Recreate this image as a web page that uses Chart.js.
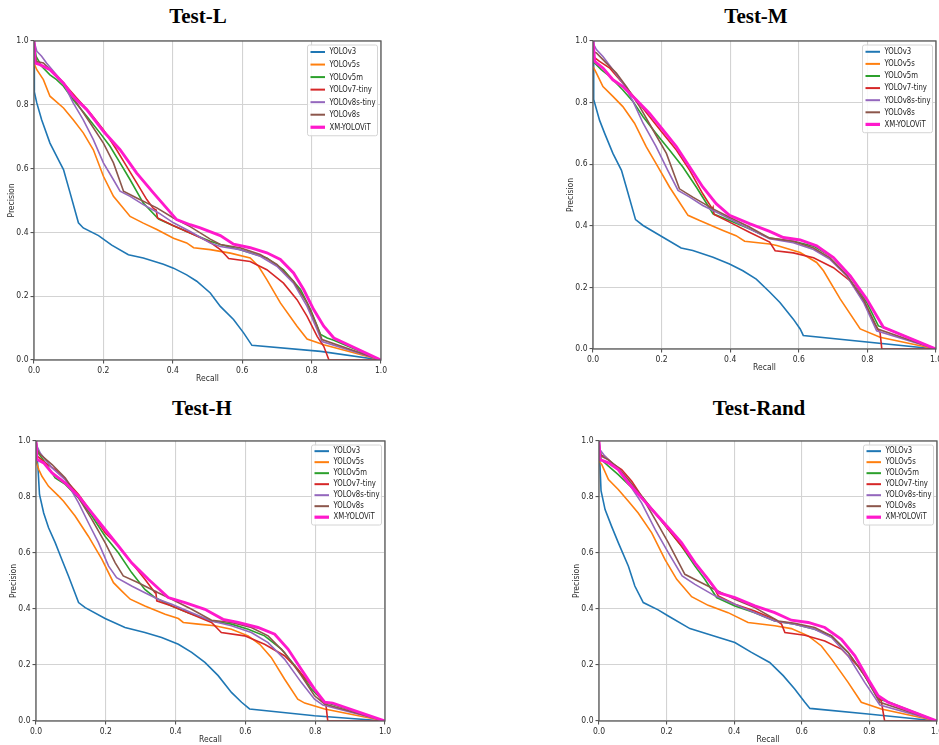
<!DOCTYPE html>
<html>
<head>
<meta charset="utf-8">
<script src="https://cdn.jsdelivr.net/npm/chart.js@4.4.1/dist/chart.umd.min.js"></script>
<style>
  html, body { margin: 0; padding: 0; background: #fff; }
  body { width: 939px; height: 745px; position: relative; overflow: hidden; }
  canvas { position: absolute; }
  .title {
    position: absolute;
    font-family: "Liberation Serif", "Times New Roman", serif;
    font-weight: bold;
    font-size: 21px;
    line-height: 21px;
    transform: translateX(-50%);
    white-space: nowrap;
    color: #000;
  }
</style>
</head>
<body>
<div class="title" style="left:198px;top:6px">Test-L</div>
<div class="title" style="left:756px;top:6px">Test-M</div>
<div class="title" style="left:202px;top:398px">Test-H</div>
<div class="title" style="left:759px;top:398px">Test-Rand</div>

<canvas id="chartL" width="401" height="359" style="left:0px;top:29px"></canvas>
<canvas id="chartM" width="397" height="348" style="left:559px;top:29px"></canvas>
<canvas id="chartH" width="403" height="320" style="left:2px;top:429px"></canvas>
<canvas id="chartR" width="392" height="320" style="left:565px;top:429px"></canvas>

<script>
// series names and axis ticks
const seriesNames = ["YOLOv3", "YOLOv5s", "YOLOv5m", "YOLOv7-tiny", "YOLOv8s-tiny", "YOLOv8s", "XM-YOLOViT"];
const axisTicks = [0.0, 0.2, 0.4, 0.6, 0.8, 1.0];

// [recall, precision] pairs

// Test-L
const lV3  = [[0,1.0],[0.001,0.84],[0.008,0.806],[0.022,0.753],[0.046,0.68],[0.075,0.618],[0.085,0.597],[0.104,0.524],[0.128,0.43],[0.142,0.414],[0.186,0.39],[0.224,0.36],[0.272,0.33],[0.315,0.32],[0.373,0.30],[0.402,0.288],[0.44,0.267],[0.469,0.247],[0.508,0.21],[0.537,0.168],[0.575,0.127],[0.604,0.085],[0.628,0.046],[0.826,0.027],[1.0,0.0]];
const lV5s = [[0,0.93],[0.008,0.91],[0.027,0.879],[0.046,0.827],[0.085,0.79],[0.113,0.753],[0.142,0.712],[0.171,0.659],[0.2,0.576],[0.229,0.513],[0.277,0.45],[0.315,0.429],[0.354,0.409],[0.402,0.382],[0.44,0.367],[0.46,0.352],[0.508,0.346],[0.566,0.335],[0.623,0.32],[0.647,0.294],[0.671,0.252],[0.71,0.179],[0.758,0.106],[0.787,0.066],[0.835,0.048],[1.0,0.0]];
const lV5m = [[0,1.0],[0.006,0.952],[0.022,0.921],[0.046,0.894],[0.065,0.879],[0.085,0.858],[0.113,0.816],[0.152,0.764],[0.19,0.712],[0.219,0.67],[0.248,0.618],[0.277,0.565],[0.315,0.492],[0.359,0.442],[0.402,0.421],[0.45,0.398],[0.508,0.372],[0.537,0.362],[0.594,0.346],[0.671,0.32],[0.719,0.283],[0.768,0.221],[0.797,0.158],[0.826,0.08],[0.845,0.069],[0.864,0.062],[1.0,0.0]];
const lV7t = [[0,0.94],[0.017,0.926],[0.046,0.91],[0.085,0.868],[0.123,0.821],[0.162,0.774],[0.2,0.722],[0.238,0.659],[0.267,0.607],[0.296,0.555],[0.325,0.503],[0.344,0.475],[0.352,0.47],[0.356,0.445],[0.402,0.421],[0.45,0.398],[0.508,0.369],[0.537,0.346],[0.551,0.33],[0.561,0.318],[0.623,0.309],[0.671,0.283],[0.719,0.241],[0.758,0.189],[0.787,0.137],[0.816,0.074],[0.835,0.043],[0.85,0.0],[1.0,0.0]];
const lV8t = [[0,1.0],[0.008,0.968],[0.022,0.952],[0.036,0.931],[0.056,0.905],[0.085,0.868],[0.113,0.806],[0.142,0.753],[0.171,0.691],[0.2,0.618],[0.229,0.565],[0.248,0.529],[0.277,0.513],[0.315,0.487],[0.359,0.461],[0.402,0.43],[0.45,0.403],[0.508,0.367],[0.537,0.356],[0.594,0.346],[0.652,0.325],[0.7,0.294],[0.748,0.241],[0.787,0.168],[0.816,0.095],[0.83,0.058],[1.0,0.0]];
const lV8s = [[0,0.973],[0.008,0.936],[0.027,0.931],[0.056,0.90],[0.085,0.868],[0.123,0.806],[0.162,0.743],[0.2,0.68],[0.229,0.618],[0.258,0.529],[0.296,0.508],[0.354,0.477],[0.402,0.445],[0.45,0.418],[0.508,0.379],[0.537,0.362],[0.594,0.352],[0.652,0.331],[0.7,0.30],[0.748,0.247],[0.787,0.179],[0.816,0.106],[0.83,0.064],[1.0,0.0]];
const lXm  = [[0,1.0],[0.003,0.931],[0.017,0.926],[0.046,0.91],[0.085,0.868],[0.113,0.826],[0.152,0.785],[0.2,0.717],[0.248,0.659],[0.296,0.586],[0.344,0.524],[0.411,0.44],[0.45,0.424],[0.479,0.414],[0.537,0.39],[0.575,0.363],[0.623,0.352],[0.671,0.336],[0.71,0.315],[0.748,0.273],[0.777,0.221],[0.806,0.158],[0.835,0.106],[0.864,0.069],[1.0,0.0]];

// Test-M
const mV3  = [[0,1.0],[0.002,0.81],[0.019,0.743],[0.034,0.70],[0.058,0.635],[0.083,0.58],[0.097,0.526],[0.124,0.42],[0.146,0.401],[0.204,0.363],[0.257,0.328],[0.291,0.32],[0.35,0.298],[0.398,0.276],[0.437,0.254],[0.476,0.227],[0.515,0.185],[0.545,0.151],[0.584,0.097],[0.604,0.065],[0.613,0.044],[1.0,0.0]];
const mV5s = [[0,0.917],[0.01,0.896],[0.029,0.852],[0.058,0.82],[0.087,0.787],[0.121,0.733],[0.155,0.657],[0.184,0.602],[0.223,0.526],[0.277,0.434],[0.311,0.417],[0.379,0.385],[0.417,0.368],[0.442,0.35],[0.515,0.341],[0.536,0.336],[0.604,0.313],[0.652,0.281],[0.672,0.254],[0.721,0.162],[0.779,0.065],[0.837,0.038],[1.0,0.0]];
const mV5m = [[0,0.993],[0.005,0.928],[0.024,0.907],[0.049,0.885],[0.087,0.841],[0.117,0.803],[0.146,0.754],[0.184,0.70],[0.223,0.646],[0.262,0.591],[0.301,0.526],[0.35,0.439],[0.398,0.417],[0.456,0.39],[0.515,0.36],[0.584,0.35],[0.643,0.334],[0.701,0.296],[0.75,0.237],[0.798,0.151],[0.832,0.075],[0.857,0.066],[1.0,0.0]];
const mV7t = [[0,0.95],[0.019,0.934],[0.049,0.912],[0.087,0.863],[0.126,0.809],[0.165,0.754],[0.204,0.70],[0.243,0.646],[0.282,0.58],[0.32,0.504],[0.348,0.455],[0.35,0.46],[0.353,0.437],[0.398,0.412],[0.456,0.379],[0.515,0.347],[0.531,0.319],[0.584,0.312],[0.643,0.296],[0.701,0.264],[0.75,0.221],[0.789,0.156],[0.822,0.08],[0.837,0.053],[0.842,0.0],[1.0,0.0]];
const mV8t = [[0,0.993],[0.01,0.972],[0.029,0.95],[0.058,0.907],[0.087,0.863],[0.117,0.803],[0.146,0.733],[0.184,0.657],[0.218,0.58],[0.248,0.515],[0.282,0.493],[0.32,0.466],[0.359,0.445],[0.398,0.423],[0.456,0.39],[0.515,0.358],[0.584,0.345],[0.643,0.323],[0.691,0.291],[0.74,0.237],[0.789,0.151],[0.827,0.059],[1.0,0.0]];
const mV8s = [[0,0.966],[0.01,0.961],[0.039,0.928],[0.068,0.896],[0.097,0.852],[0.136,0.787],[0.175,0.711],[0.214,0.635],[0.252,0.52],[0.291,0.493],[0.35,0.455],[0.398,0.428],[0.456,0.396],[0.515,0.36],[0.584,0.35],[0.643,0.328],[0.691,0.296],[0.74,0.24],[0.789,0.16],[0.83,0.065],[1.0,0.0]];
const mXm  = [[0,1.0],[0.005,0.934],[0.029,0.912],[0.058,0.874],[0.087,0.852],[0.126,0.809],[0.165,0.765],[0.204,0.711],[0.243,0.657],[0.282,0.591],[0.32,0.526],[0.359,0.472],[0.398,0.434],[0.456,0.407],[0.515,0.382],[0.555,0.362],[0.604,0.354],[0.652,0.335],[0.701,0.297],[0.75,0.237],[0.798,0.162],[0.847,0.07],[1.0,0.0]];

// Test-H
const hV3  = [[0,1.0],[0.006,0.898],[0.01,0.809],[0.022,0.743],[0.036,0.69],[0.055,0.637],[0.074,0.577],[0.093,0.518],[0.122,0.423],[0.141,0.405],[0.198,0.366],[0.255,0.334],[0.312,0.316],[0.36,0.298],[0.408,0.274],[0.446,0.245],[0.484,0.209],[0.522,0.162],[0.56,0.102],[0.589,0.067],[0.612,0.043],[0.798,0.019],[1.0,0.0]];
const hV5s = [[0,0.928],[0.008,0.898],[0.017,0.874],[0.036,0.838],[0.065,0.803],[0.079,0.785],[0.112,0.732],[0.15,0.66],[0.189,0.577],[0.222,0.494],[0.246,0.464],[0.27,0.435],[0.312,0.411],[0.37,0.381],[0.408,0.366],[0.422,0.352],[0.465,0.346],[0.512,0.34],[0.56,0.328],[0.608,0.304],[0.641,0.274],[0.674,0.227],[0.712,0.15],[0.75,0.078],[0.77,0.064],[0.827,0.043],[1.0,0.0]];
const hV5m = [[0,1.0],[0.006,0.957],[0.027,0.922],[0.055,0.868],[0.084,0.845],[0.122,0.797],[0.16,0.732],[0.198,0.66],[0.236,0.601],[0.274,0.53],[0.312,0.47],[0.341,0.441],[0.389,0.411],[0.436,0.387],[0.503,0.357],[0.56,0.346],[0.608,0.328],[0.655,0.304],[0.703,0.257],[0.75,0.185],[0.789,0.114],[0.827,0.067],[0.855,0.057],[1.0,0.0]];
const hV7t = [[0,0.95],[0.01,0.94],[0.027,0.922],[0.055,0.898],[0.084,0.862],[0.122,0.809],[0.16,0.743],[0.198,0.672],[0.236,0.625],[0.274,0.565],[0.312,0.506],[0.341,0.458],[0.343,0.465],[0.346,0.429],[0.389,0.411],[0.446,0.381],[0.503,0.352],[0.517,0.334],[0.531,0.316],[0.598,0.304],[0.655,0.274],[0.712,0.233],[0.75,0.185],[0.789,0.126],[0.817,0.078],[0.831,0.055],[0.836,0.0],[1.0,0.0]];
const hV8t = [[0,1.0],[0.003,0.981],[0.012,0.957],[0.027,0.933],[0.046,0.904],[0.084,0.862],[0.122,0.779],[0.15,0.708],[0.179,0.637],[0.208,0.553],[0.231,0.512],[0.274,0.482],[0.312,0.458],[0.35,0.435],[0.389,0.417],[0.446,0.387],[0.503,0.357],[0.56,0.34],[0.617,0.316],[0.665,0.28],[0.712,0.221],[0.76,0.138],[0.798,0.078],[0.822,0.057],[1.0,0.0]];
const hV8s = [[0,0.975],[0.012,0.952],[0.046,0.916],[0.084,0.868],[0.122,0.797],[0.16,0.72],[0.198,0.637],[0.227,0.565],[0.25,0.518],[0.293,0.494],[0.35,0.458],[0.389,0.435],[0.446,0.399],[0.503,0.36],[0.56,0.352],[0.617,0.334],[0.665,0.304],[0.712,0.245],[0.76,0.162],[0.798,0.09],[0.827,0.061],[1.0,0.0]];
const hXm  = [[0,1.0],[0.003,0.934],[0.022,0.922],[0.046,0.886],[0.084,0.85],[0.122,0.803],[0.16,0.743],[0.198,0.684],[0.236,0.625],[0.274,0.565],[0.322,0.506],[0.379,0.441],[0.427,0.423],[0.484,0.399],[0.536,0.363],[0.579,0.352],[0.636,0.334],[0.684,0.31],[0.722,0.257],[0.76,0.185],[0.798,0.114],[0.827,0.067],[0.85,0.064],[1.0,0.0]];

// Test-Rand
const rV3  = [[0,1.0],[0.006,0.823],[0.018,0.755],[0.037,0.696],[0.057,0.637],[0.087,0.553],[0.106,0.482],[0.131,0.423],[0.175,0.397],[0.205,0.375],[0.269,0.33],[0.333,0.306],[0.402,0.28],[0.451,0.245],[0.505,0.209],[0.545,0.162],[0.579,0.114],[0.609,0.067],[0.624,0.045],[0.796,0.025],[1.0,0.0]];
const rV5s = [[0,0.928],[0.008,0.916],[0.028,0.862],[0.057,0.827],[0.087,0.785],[0.116,0.743],[0.156,0.672],[0.195,0.577],[0.23,0.506],[0.274,0.444],[0.323,0.413],[0.382,0.387],[0.441,0.352],[0.52,0.34],[0.569,0.33],[0.619,0.304],[0.658,0.268],[0.688,0.221],[0.737,0.138],[0.776,0.067],[0.835,0.043],[1.0,0.0]];
const rV5m = [[0,1.0],[0.006,0.934],[0.028,0.91],[0.057,0.88],[0.087,0.845],[0.126,0.803],[0.166,0.743],[0.205,0.684],[0.244,0.625],[0.284,0.553],[0.313,0.506],[0.348,0.441],[0.402,0.411],[0.461,0.387],[0.52,0.357],[0.579,0.346],[0.638,0.328],[0.688,0.304],[0.737,0.245],[0.786,0.162],[0.826,0.078],[0.855,0.069],[1.0,0.0]];
const rV7t = [[0,0.951],[0.018,0.945],[0.037,0.922],[0.067,0.898],[0.097,0.856],[0.126,0.803],[0.166,0.743],[0.205,0.684],[0.244,0.625],[0.284,0.565],[0.323,0.506],[0.343,0.47],[0.353,0.447],[0.402,0.417],[0.461,0.393],[0.52,0.363],[0.54,0.346],[0.55,0.316],[0.609,0.306],[0.668,0.286],[0.717,0.257],[0.766,0.197],[0.806,0.126],[0.835,0.072],[0.845,0.0],[1.0,0.0]];
const rV8t = [[0,1.0],[0.003,0.969],[0.018,0.945],[0.037,0.922],[0.057,0.898],[0.087,0.85],[0.126,0.779],[0.166,0.684],[0.205,0.601],[0.246,0.518],[0.284,0.488],[0.343,0.447],[0.402,0.417],[0.461,0.387],[0.52,0.357],[0.579,0.346],[0.638,0.328],[0.688,0.298],[0.737,0.233],[0.786,0.138],[0.831,0.057],[1.0,0.0]];
const rV8s = [[0,0.975],[0.008,0.945],[0.028,0.933],[0.057,0.904],[0.087,0.862],[0.126,0.803],[0.166,0.72],[0.205,0.637],[0.254,0.524],[0.303,0.494],[0.362,0.458],[0.402,0.435],[0.461,0.405],[0.53,0.357],[0.579,0.349],[0.638,0.334],[0.688,0.304],[0.737,0.245],[0.786,0.162],[0.831,0.067],[1.0,0.0]];
const rXm  = [[0,1.0],[0.003,0.934],[0.028,0.922],[0.057,0.898],[0.087,0.85],[0.126,0.797],[0.166,0.743],[0.205,0.69],[0.244,0.637],[0.284,0.565],[0.323,0.506],[0.353,0.458],[0.402,0.441],[0.461,0.411],[0.52,0.387],[0.569,0.36],[0.619,0.352],[0.668,0.334],[0.717,0.292],[0.757,0.233],[0.796,0.15],[0.826,0.09],[0.855,0.067],[1.0,0.0]];

const seriesColors = ["#1f77b4", "#ff7f0e", "#2ca02c", "#d62728", "#9467bd", "#8c564b", "#ff19cc"];
const smallFont = '"DejaVu Sans Condensed", "Liberation Sans Narrow", "DejaVu Sans", sans-serif';

// matplotlib-ish frame and the legend box in the top right corner
const framePlugin = {
  id: "frameLegend",
  afterDatasetsDraw(chart) {
    const { ctx, chartArea: a } = chart;
    const h = a.bottom - a.top;
    ctx.save();
    ctx.strokeStyle = "#5a5a5a";
    ctx.lineWidth = 1.3;
    ctx.strokeRect(a.left, a.top, a.right - a.left, a.bottom - a.top);

    const step = h * 0.0393;
    const boxW = 70;
    const boxH = step * 7 + 3;
    const bx = a.right - 3.5 - boxW;
    const by = a.top + 4;
    ctx.beginPath();
    ctx.roundRect(bx, by, boxW, boxH, 2);
    ctx.fillStyle = "rgba(255,255,255,0.85)";
    ctx.fill();
    ctx.strokeStyle = "#d4d4d4";
    ctx.lineWidth = 1;
    ctx.stroke();

    const fs = step * 0.76;
    ctx.font = fs.toFixed(1) + "px " + smallFont;
    ctx.textBaseline = "middle";
    const widest = Math.max(...chart.data.datasets.map(d => ctx.measureText(d.label).width));
    const sx = Math.min(1, (boxW - 24) / widest);
    chart.data.datasets.forEach((ds, i) => {
      const y = by + step * 0.56 + step * i;
      ctx.beginPath();
      ctx.moveTo(bx + 3, y);
      ctx.lineTo(bx + 17.5, y);
      ctx.strokeStyle = ds.borderColor;
      ctx.lineWidth = i === 6 ? 3.2 : 2;
      ctx.stroke();
      ctx.save();
      ctx.translate(bx + 22, y);
      ctx.scale(sx, 1);
      ctx.fillStyle = "#222";
      ctx.fillText(ds.label, 0, 0);
      ctx.restore();
    });
    ctx.restore();
  }
};

function axis(titleText, horizontal) {
  return {
    type: "linear",
    min: 0,
    max: 1,
    afterBuildTicks: s => { s.ticks = axisTicks.map(v => ({ value: v })); },
    ticks: {
      callback: v => v.toFixed(1),
      font: { family: smallFont, size: 8.5 },
      color: "#2a2a2a",
      padding: 2,
      maxRotation: 0,
      autoSkip: false
    },
    grid: { color: "#d3d3d3", lineWidth: 1.1, tickLength: 3.5, tickColor: "#555" },
    border: { display: false },
    title: {
      display: true,
      text: titleText,
      font: { family: smallFont, size: 8.5 },
      color: "#2a2a2a",
      padding: horizontal ? { top: 0, bottom: 4 } : { top: 7, bottom: 0 }
    },
    afterFit: s => {
      if (horizontal) s.height = 28; else s.width = 34;
    }
  };
}

function makeChart(id, curves) {
  return new Chart(document.getElementById(id), {
    type: "scatter",
    data: {
      datasets: curves.map((pts, i) => ({
        label: seriesNames[i],
        data: pts.map(([x, y]) => ({ x, y })),
        showLine: true,
        borderColor: seriesColors[i],
        backgroundColor: seriesColors[i],
        borderWidth: i === 6 ? 2.9 : 1.6,
        pointRadius: 0,
        pointHoverRadius: 0,
        tension: 0,
        order: 6 - i
      }))
    },
    options: {
      responsive: false,
      animation: false,
      devicePixelRatio: 1,
      layout: { padding: { top: 12, right: 20, bottom: 0, left: 0 } },
      plugins: { legend: { display: false }, tooltip: { enabled: false } },
      scales: { x: axis("Recall", true), y: axis("Precision", false) }
    },
    plugins: [framePlugin]
  });
}

makeChart("chartL", [lV3, lV5s, lV5m, lV7t, lV8t, lV8s, lXm]);
makeChart("chartM", [mV3, mV5s, mV5m, mV7t, mV8t, mV8s, mXm]);
makeChart("chartH", [hV3, hV5s, hV5m, hV7t, hV8t, hV8s, hXm]);
makeChart("chartR", [rV3, rV5s, rV5m, rV7t, rV8t, rV8s, rXm]);
</script>
</body>
</html>
